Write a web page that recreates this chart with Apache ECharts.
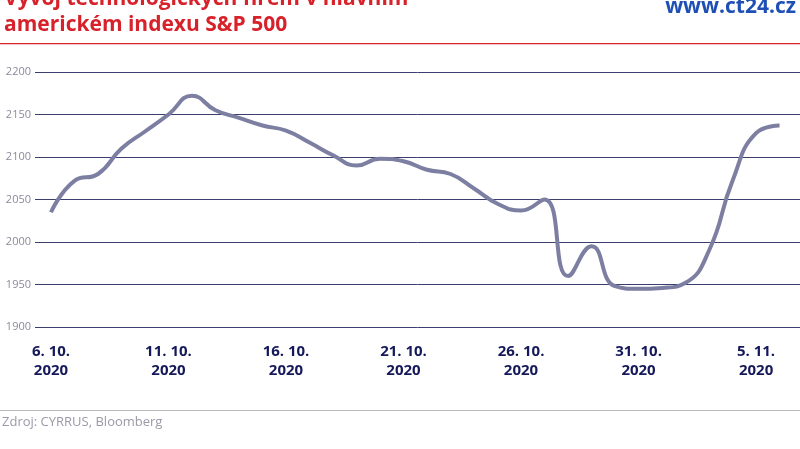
<!DOCTYPE html>
<html><head><meta charset="utf-8">
<script src="https://cdn.jsdelivr.net/npm/echarts@6/dist/echarts.min.js"></script>
<style>html,body{margin:0;padding:0;background:#fff}#c{width:800px;height:449px}</style>
</head><body><div id="c"></div>
<script>
const dayIndex = [0,1,2,3,4,5,6,7,8,9,10,11,12,13,14,15,16,17,18,19,20,21,22,23,24,25,26,27,28,29,30,31];
const values = [2035,2072,2080,2110,2130,2150,2172,2155,2146,2137,2131,2117,2102,2090,2098,2095,2085,2080,2063,2045,2037,2050,1960,1995,1948,1945,1946,1952,1990,2072,2128,2137];
const tickDays = [0,5,10,15,20,25,30];
const tickLabels = ['6. 10.\n2020','11. 10.\n2020','16. 10.\n2020','21. 10.\n2020','26. 10.\n2020','31. 10.\n2020','5. 11.\n2020'];
const chart = echarts.init(document.getElementById('c'));
chart.setOption({
  animation:false,
  graphic:[
    {type:'text',left:4,top:-14,style:{text:'Vývoj technologických firem v hlavním\namerickém indexu S&P 500',fill:'#d8222b',font:'bold 21px "Open Sans", sans-serif',lineHeight:26}},
    {type:'text',right:4,top:-3,style:{text:'www.ct24.cz',fill:'#1e4fb5',font:'bold 21px "Open Sans", sans-serif'}},
    {type:'rect',shape:{x:0,y:43,width:800,height:1.2},style:{fill:'#d8222b'}},
    {type:'rect',shape:{x:0,y:410,width:800,height:1},style:{fill:'#bbbbbb'}},
    {type:'text',left:2,top:416,style:{text:'Zdroj: CYRRUS, Bloomberg',fill:'#9a9aa8',font:'13px "Open Sans", sans-serif'}}
  ],
  grid:{left:35,right:0,top:72,height:255},
  xAxis:{type:'value',min:-0.68,max:31.87,
    axisLine:{show:false},splitLine:{show:false},axisTick:{show:false},
    axisLabel:{customValues:tickDays,margin:15,color:'#15195a',fontWeight:'bold',fontSize:15,lineHeight:19,fontFamily:'"Open Sans", sans-serif',
      formatter:v=>tickLabels[tickDays.indexOf(Math.round(v))]||''}},
  yAxis:{type:'value',min:1900,max:2200,interval:50,
    axisLine:{show:false},axisTick:{show:false},
    axisLabel:{color:'#8a8a9a',fontSize:11,margin:4,align:'right',fontFamily:'"Open Sans", sans-serif',formatter:v=>String(v)},
    splitLine:{lineStyle:{color:'#3b3f70',width:1}}},
  series:[{type:'line',data:dayIndex.map((d,i)=>[d,values[i]]),smooth:0.5,symbol:'none',
    lineStyle:{color:'#7c7fa1',width:4}}]
});
</script></body></html>
